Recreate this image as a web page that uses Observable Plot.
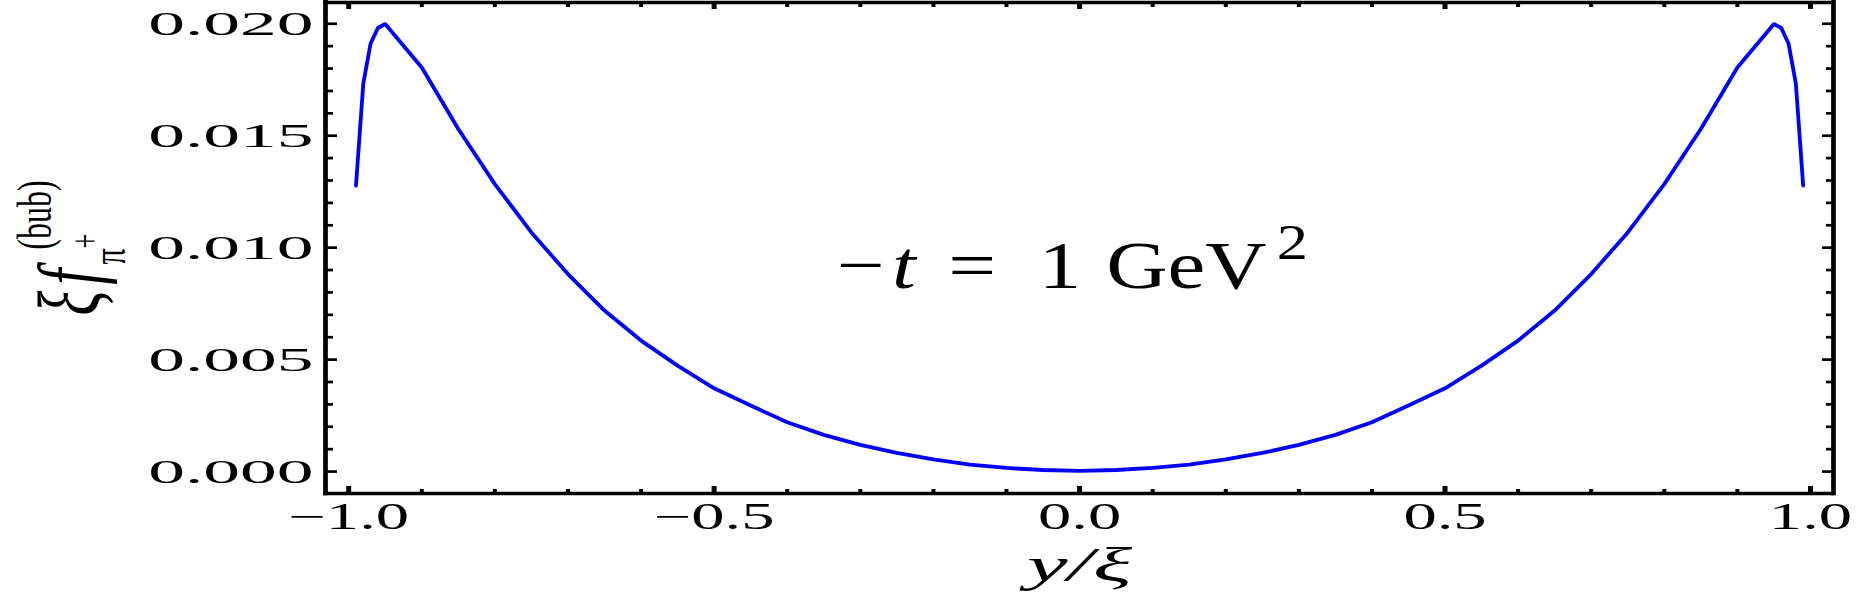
<!DOCTYPE html>
<html><head><meta charset="utf-8">
<script src="https://cdn.jsdelivr.net/npm/d3@7"></script>
<script src="https://cdn.jsdelivr.net/npm/@observablehq/plot@0.6"></script>
<style>html,body{margin:0;padding:0;background:#fff;} svg{display:block;}</style>
</head><body><div id="chart"></div>
<script>
// ---- data ----
const xValues = [-0.99,-0.98,-0.97,-0.96,-0.95,-0.9,-0.85,-0.8,-0.75,-0.7,-0.65,-0.6,-0.55,-0.5,-0.45,-0.4,-0.35,-0.3,-0.25,-0.2,-0.15,-0.1,-0.05,0,
                 0.05,0.1,0.15,0.2,0.25,0.3,0.35,0.4,0.45,0.5,0.55,0.6,0.65,0.7,0.75,0.8,0.85,0.9,0.95,0.96,0.97,0.98,0.99];
const fValues = [0.01277,0.01733,0.01912,0.01981,0.01999,0.01805,0.0153,0.01284,0.01068,0.00882,0.00719,0.00585,0.00473,0.00372,0.00295,0.0022,0.00164,0.00119,0.00083,0.00054,0.00031,0.00016,0.00007,0.00003,
                 0.00007,0.00016,0.00031,0.00054,0.00083,0.00119,0.00164,0.0022,0.00295,0.00372,0.00473,0.00585,0.00719,0.00882,0.01068,0.01284,0.0153,0.01805,0.01999,0.01981,0.01912,0.01733,0.01277];
const xDomain = [-1.0317, 1.0315];
const yDomain = [-0.00098, 0.02095];
const xMajor = [-1, -0.5, 0, 0.5, 1];
const xMajorLabels = ["\u22121.0", "\u22120.5", "0.0", "0.5", "1.0"];
const xMinor = [-0.9,-0.8,-0.7,-0.6,-0.4,-0.3,-0.2,-0.1,0.1,0.2,0.3,0.4,0.6,0.7,0.8,0.9];
const yMajor = [0, 0.005, 0.01, 0.015, 0.02];
const yMajorLabels = ["0.000", "0.005", "0.010", "0.015", "0.020"];
const yMinor = [0.001,0.002,0.003,0.004,0.006,0.007,0.008,0.009,0.011,0.012,0.013,0.014,0.016,0.017,0.018,0.019];
const xLabelText = "y/\u03BE";
const yLabelParts = ["\u03BE", "f", "\u03C0", "+", "(bub)"];
const annotation = [{x: -0.01, y: 0.00822}];
const annotationParts = ["\u2212", "t", "=", "1", "GeV", "2"];

const data = xValues.map((x, i) => ({x, f: fValues[i]}));
const font = "'Liberation Serif', 'Times New Roman', serif";
const yLabelString = yLabelParts.join("");
const annotationString = annotationParts.join("");

const tickOpts = {fill: "none", stroke: "black", label: null};
const chart = Plot.plot({
  width: 1860, height: 599,
  marginLeft: 325, marginRight: 27, marginTop: 2, marginBottom: 106,
  x: {domain: xDomain},
  y: {domain: yDomain},
  style: {background: "white", color: "black", fontFamily: font},
  marks: [
    Plot.line(data, {x: "x", y: "f", stroke: "#0000ff", strokeWidth: 3.8, strokeLinejoin: "miter"}),
    // ticks (inward) on all four sides
    Plot.axisX(xMajor, {...tickOpts, anchor: "bottom", tickSize: -7, strokeWidth: 5}),
    Plot.axisX(xMinor, {...tickOpts, anchor: "bottom", tickSize: -4, strokeWidth: 4}),
    Plot.axisX(xMajor, {...tickOpts, anchor: "top", tickSize: -6, strokeWidth: 5}),
    Plot.axisX(xMinor, {...tickOpts, anchor: "top", tickSize: -4, strokeWidth: 4}),
    Plot.axisY(yMajor, {...tickOpts, anchor: "left", tickSize: -12, strokeWidth: 2.7}),
    Plot.axisY(yMinor, {...tickOpts, anchor: "left", tickSize: -8, strokeWidth: 2.7}),
    Plot.axisY(yMajor, {...tickOpts, anchor: "right", tickSize: -12, strokeWidth: 2.7}),
    Plot.axisY(yMinor, {...tickOpts, anchor: "right", tickSize: -8, strokeWidth: 2.7}),
    // tick labels
    Plot.axisX(xMajor, {anchor: "bottom", tickSize: 0, tickPadding: 9, fontSize: 37, fill: "black", label: null,
      tickFormat: d => xMajorLabels[xMajor.indexOf(d)]}),
    Plot.axisY(yMajor, {anchor: "left", tickSize: 0, tickPadding: 12, fontSize: 34.5, fill: "black", label: null,
      tickFormat: d => yMajorLabels[yMajor.indexOf(d)]}),
    // frame
    Plot.ruleX(xDomain, {stroke: "black", strokeWidth: 4.7, strokeLinecap: "square"}),
    Plot.ruleY(yDomain, {stroke: "black", strokeWidth: 3.3, strokeLinecap: "square"}),
    // axis labels and annotation
    Plot.text([xLabelText], {frameAnchor: "bottom", dy: 87, text: d => d, lineAnchor: "bottom", fontSize: 48, fontStyle: "italic", fill: "black"}),
    Plot.text([yLabelString], {frameAnchor: "left", dx: -228, text: d => d, textAnchor: "middle", lineAnchor: "bottom", fontSize: 58, fill: "black"}),
    Plot.text(annotation, {x: "x", y: "y", text: () => annotationString, lineAnchor: "bottom", fontSize: 68, fill: "black"})
  ]
});
document.getElementById("chart").appendChild(chart);

// ---- post-processing: stretched text, sub/superscripts ----
const root = d3.select(chart);
function findText(str) {
  return root.selectAll("text").filter(function () { return this.textContent === str; }).node();
}
function stretch(sel, s) {
  sel.each(function () {
    const t = this.getAttribute("transform") || "";
    this.setAttribute("transform", `${t} scale(${s},1)`);
  });
}
function setSpans(el, spans) {
  el.textContent = "";
  for (const s of spans) {
    const ts = document.createElementNS("http://www.w3.org/2000/svg", "tspan");
    ts.textContent = s.t;
    if (s.italic) ts.setAttribute("font-style", "italic");
    if (s.size) ts.setAttribute("font-size", s.size);
    if (s.dx) ts.setAttribute("dx", s.dx);
    if (s.dy) ts.setAttribute("dy", s.dy);
    el.appendChild(ts);
  }
}
stretch(root.selectAll('g[aria-label="y-axis tick label"] text'), 2.13);
stretch(root.selectAll('g[aria-label="x-axis tick label"] text'), 1.8);

const xl = findText(xLabelText);
const an = findText(annotationString);
const yl = findText(yLabelString);

if (xl) stretch(d3.select(xl), 1.9);

if (an) {
  setSpans(an, [
    {t: annotationParts[0]},
    {t: annotationParts[1], italic: true, dx: 6},
    {t: annotationParts[2], dx: 26},
    {t: annotationParts[3], dx: 34},
    {t: annotationParts[4], dx: 20},
    {t: annotationParts[5], size: 50, dx: 8, dy: -29}
  ]);
  stretch(d3.select(an), 1.25);
}

if (yl) {
  setSpans(yl, [
    {t: yLabelParts[0], italic: true},
    {t: yLabelParts[1], italic: true, dx: 6},
    {t: yLabelParts[2], size: 32, dx: 4, dy: 18},
    {t: yLabelParts[3], size: 26, dy: -18},
    {t: yLabelParts[4], size: 32, dx: -16, dy: -31}
  ]);
  const t = yl.getAttribute("transform") || "";
  yl.setAttribute("transform", `${t} scale(1.5,1) rotate(-90)`);
}
</script>
</body></html>
